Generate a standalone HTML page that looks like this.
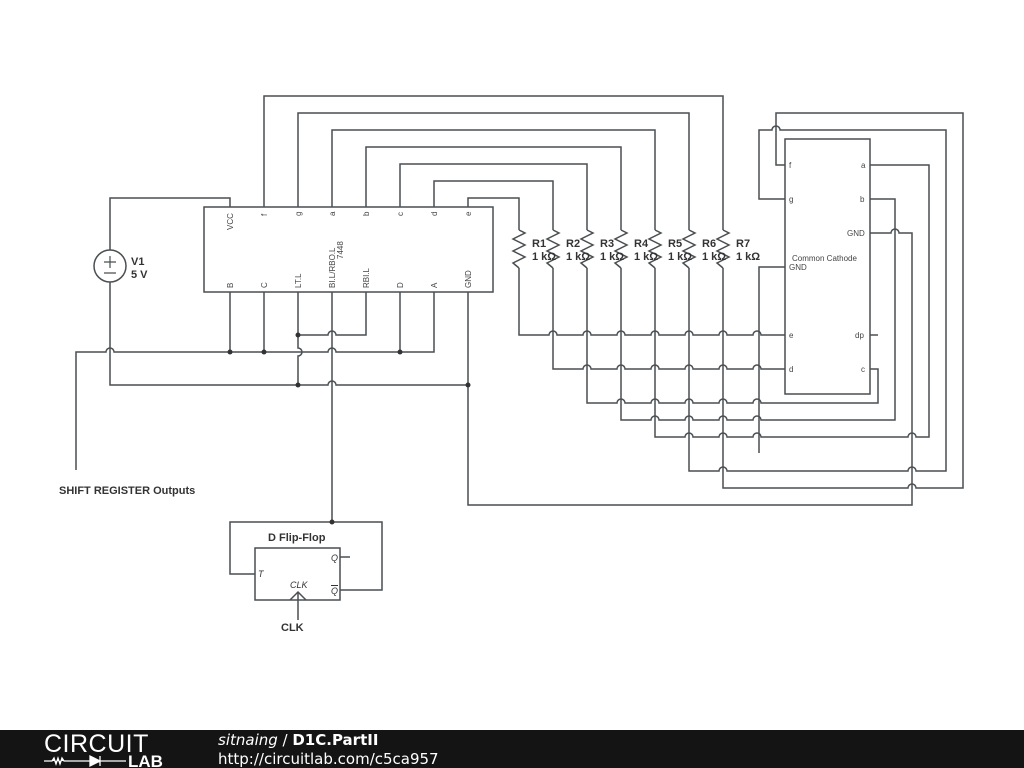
<!DOCTYPE html>
<html><head><meta charset="utf-8"><style>
body{margin:0;background:#fff;width:1024px;height:768px;overflow:hidden;font-family:"Liberation Sans",sans-serif}
svg{position:absolute;left:0;top:0}
</style></head><body>
<svg width="1024" height="768" viewBox="0 0 1024 768">
<g stroke="#4a4f52" stroke-width="1.5" fill="none">
<rect x="204" y="207" width="289" height="85"/>
<rect x="785" y="139" width="85" height="255"/>
<path d="M230 207 V198 H110 V250"/>
<path d="M264 207 V96 H723 V230"/>
<path d="M298 207 V113 H689 V230"/>
<path d="M332 207 V130 H655 V230"/>
<path d="M366 207 V147 H621 V230"/>
<path d="M400 207 V164 H587 V230"/>
<path d="M434 207 V181 H553 V230"/>
<path d="M468 207 V198 H519 V230"/>
<g>
<path d="M519 230 L525 233 L513 239 L525 245 L513 251 L525 257 L513 263 L519 268"/>
<path d="M553 230 L559 233 L547 239 L559 245 L547 251 L559 257 L547 263 L553 268"/>
<path d="M587 230 L593 233 L581 239 L593 245 L581 251 L593 257 L581 263 L587 268"/>
<path d="M621 230 L627 233 L615 239 L627 245 L615 251 L627 257 L615 263 L621 268"/>
<path d="M655 230 L661 233 L649 239 L661 245 L649 251 L661 257 L649 263 L655 268"/>
<path d="M689 230 L695 233 L683 239 L695 245 L683 251 L695 257 L683 263 L689 268"/>
<path d="M723 230 L729 233 L717 239 L729 245 L717 251 L729 257 L717 263 L723 268"/>
</g>
<path d="M519 268 V335 H549 a4 4 0 0 1 8 0 H583 a4 4 0 0 1 8 0 H617 a4 4 0 0 1 8 0 H651 a4 4 0 0 1 8 0 H685 a4 4 0 0 1 8 0 H719 a4 4 0 0 1 8 0 H753 a4 4 0 0 1 8 0 H785"/>
<path d="M553 268 V369 H583 a4 4 0 0 1 8 0 H617 a4 4 0 0 1 8 0 H651 a4 4 0 0 1 8 0 H685 a4 4 0 0 1 8 0 H719 a4 4 0 0 1 8 0 H753 a4 4 0 0 1 8 0 H785"/>
<path d="M587 268 V403 H617 a4 4 0 0 1 8 0 H651 a4 4 0 0 1 8 0 H685 a4 4 0 0 1 8 0 H719 a4 4 0 0 1 8 0 H753 a4 4 0 0 1 8 0 H878 V369 H870"/>
<path d="M621 268 V420 H651 a4 4 0 0 1 8 0 H685 a4 4 0 0 1 8 0 H719 a4 4 0 0 1 8 0 H753 a4 4 0 0 1 8 0 H895 V199 H870"/>
<path d="M655 268 V437 H685 a4 4 0 0 1 8 0 H719 a4 4 0 0 1 8 0 H753 a4 4 0 0 1 8 0 H908 a4 4 0 0 1 8 0 H929 V165 H870"/>
<path d="M689 268 V471 H719 a4 4 0 0 1 8 0 H908 a4 4 0 0 1 8 0 H946 V130 H780 a4 4 0 0 0 -8 0 H759 V199 H785"/>
<path d="M723 268 V488 H908 a4 4 0 0 1 8 0 H963 V113 H776 V165 H785"/>
<path d="M785 267 H759 V453"/>
<path d="M870 233 H891 a4 4 0 0 1 8 0 H912 V505 H468 V292"/>
<path d="M870 335 H878"/>
<path d="M230 292 V352"/><path d="M264 292 V352"/>
<path d="M298 292 V348 a4 4 0 0 1 0 8 V385"/>
<path d="M332 292 V522"/>
<path d="M366 292 V335 H336 a4 4 0 0 0 -8 0 H298"/>
<path d="M400 292 V352"/>
<path d="M434 292 V352 H336 a4 4 0 0 0 -8 0 H114 a4 4 0 0 0 -8 0 H76 V470"/>
<path d="M110 282 V385 H328 a4 4 0 0 1 8 0 H468"/>
<circle cx="110" cy="266" r="16"/>
<path d="M104 262 H116 M110 256 V268 M104 273 H116" stroke-width="1.2"/>
<rect x="255" y="548" width="85" height="52"/>
<path d="M255 574 H230 V522 H382 V590 H340"/>
<path d="M340 557 H350"/>
<path d="M290 600 L298 592 L306 600"/>
<path d="M298 592 V620"/>
</g>
<g fill="#333">
<circle cx="230" cy="352" r="2.5"/><circle cx="264" cy="352" r="2.5"/><circle cx="400" cy="352" r="2.5"/>
<circle cx="298" cy="335" r="2.5"/><circle cx="298" cy="385" r="2.5"/><circle cx="468" cy="385" r="2.5"/>
<circle cx="332" cy="522" r="2.5"/>
</g>
<g font-size="8" fill="#444">
<g transform="translate(233,230) rotate(-90)"><text>VCC</text></g>
<g transform="translate(267,216) rotate(-90)"><text>f</text></g>
<g transform="translate(301,216) rotate(-90)"><text>g</text></g>
<g transform="translate(335,216) rotate(-90)"><text>a</text></g>
<g transform="translate(369,216) rotate(-90)"><text>b</text></g>
<g transform="translate(403,216) rotate(-90)"><text>c</text></g>
<g transform="translate(437,216) rotate(-90)"><text>d</text></g>
<g transform="translate(471,216) rotate(-90)"><text>e</text></g>
<g transform="translate(233,288) rotate(-90)"><text>B</text></g>
<g transform="translate(267,288) rotate(-90)"><text>C</text></g>
<g transform="translate(301,288) rotate(-90)"><text>LT.L</text></g>
<g transform="translate(335,288) rotate(-90)"><text>BI.L/RBO.L</text></g>
<g transform="translate(343,259) rotate(-90)"><text>7448</text></g>
<g transform="translate(369,288) rotate(-90)"><text>RBI.L</text></g>
<g transform="translate(403,288) rotate(-90)"><text>D</text></g>
<g transform="translate(437,288) rotate(-90)"><text>A</text></g>
<g transform="translate(471,288) rotate(-90)"><text>GND</text></g>
<text x="789" y="168">f</text><text x="789" y="202">g</text>
<text x="861" y="168">a</text><text x="860" y="202">b</text>
<text x="847" y="236">GND</text>
<text x="792" y="261">Common Cathode</text>
<text x="789" y="270">GND</text>
<text x="789" y="338">e</text><text x="855" y="338">dp</text>
<text x="789" y="372">d</text><text x="861" y="372">c</text>
</g>
<g font-size="11" font-weight="bold" fill="#333">
<text x="532" y="247">R1</text><text x="532" y="260">1 kΩ</text>
<text x="566" y="247">R2</text><text x="566" y="260">1 kΩ</text>
<text x="600" y="247">R3</text><text x="600" y="260">1 kΩ</text>
<text x="634" y="247">R4</text><text x="634" y="260">1 kΩ</text>
<text x="668" y="247">R5</text><text x="668" y="260">1 kΩ</text>
<text x="702" y="247">R6</text><text x="702" y="260">1 kΩ</text>
<text x="736" y="247">R7</text><text x="736" y="260">1 kΩ</text>
<text x="131" y="265">V1</text><text x="131" y="278">5 V</text>
<text x="59" y="494">SHIFT REGISTER Outputs</text>
<text x="268" y="541">D Flip-Flop</text>
<text x="281" y="631">CLK</text>
</g>
<g font-size="9" font-style="italic" fill="#333">
<text x="258" y="577">T</text><text x="331" y="561">Q</text><text x="331" y="594">Q</text>
<text x="290" y="588">CLK</text>
</g>
<line x1="331" y1="585.5" x2="338" y2="585.5" stroke="#333" stroke-width="1"/>
<rect x="0" y="730" width="1024" height="38" fill="#141414"/>
<text x="44" y="752" font-size="25" fill="#fff" font-family="Liberation Sans" letter-spacing="0.5">CIRCUIT</text>
<path d="M44 761 H52 l2 -3 2 6 2 -6 2 6 2 -6 2 3 H90 M90 756 V766 L100 761 Z M100 756 V766 M100 761 H126" stroke="#fff" stroke-width="1.3" fill="#fff"/>
<text x="128" y="767" font-size="17" font-weight="bold" fill="#fff">LAB</text>
<text x="218" y="745" font-size="15" fill="#fff" font-family="DejaVu Sans"><tspan font-style="italic">sitnaing</tspan> / <tspan font-weight="bold">D1C.PartII</tspan></text>
<text x="218" y="764" font-size="15" fill="#fff" font-family="DejaVu Sans">http://circuitlab.com/c5ca957</text>
</svg>
</body></html>
